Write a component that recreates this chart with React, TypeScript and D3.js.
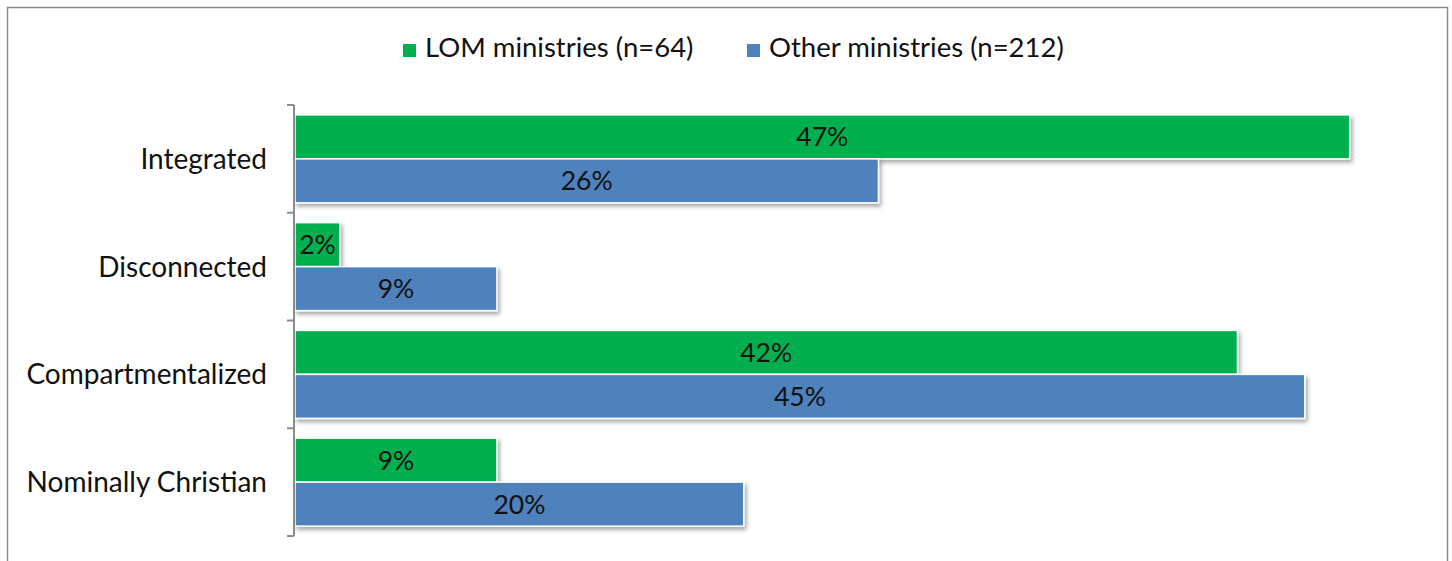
import React from "react";
import * as d3 from "d3";

const categories = ["Integrated", "Disconnected", "Compartmentalized", "Nominally Christian"];
const seriesNames = ["LOM ministries (n=64)", "Other ministries (n=212)"];
const lomValues = [47, 2, 42, 9];
const otherValues = [26, 9, 45, 20];
const seriesColors = ["#00B050", "#4F81BD"];

const W = 1452;
const H = 561;
const FONT = "Lato, 'Open Sans', sans-serif";

export default function App() {
  const x = d3.scaleLinear().domain([0, 50]).range([295, 1417]);
  const y0 = d3.scaleBand<string>().domain(categories).range([105, 536]).paddingInner(0).paddingOuter(0);
  const y1 = d3
    .scaleBand<string>()
    .domain(seriesNames)
    .range([0, y0.bandwidth()])
    .paddingInner(0)
    .paddingOuter(0.2245);
  const seriesValues = [lomValues, otherValues];
  const boundaries = categories.map((c) => y0(c) as number).concat([y0.range()[1]]);

  const legendItems = [
    { name: seriesNames[0], color: seriesColors[0], sx: 403, tx: 425 },
    { name: seriesNames[1], color: seriesColors[1], sx: 747, tx: 769 },
  ];

  return (
    <svg
      width={W}
      height={H}
      style={{ position: "absolute", left: 0, top: 0, background: "#fff" }}
      fontFamily={FONT}
      fontWeight={400}
    >
      <defs>
        <filter id="shadow" x="-5%" y="-20%" width="115%" height="160%">
          <feDropShadow dx="2" dy="3" stdDeviation="2" floodColor="#000" floodOpacity="0.35" />
        </filter>
      </defs>
      <rect x={7.5} y={7.5} width={1440} height={600} fill="#fff" stroke="#8c8c8c" strokeWidth={1.5} />

      {legendItems.map((l) => (
        <g key={l.name}>
          <rect x={l.sx} y={44} width={13} height={13} fill={l.color} />
          <text x={l.tx} y={57} fontSize={27.5} fill="#111">
            {l.name}
          </text>
        </g>
      ))}

      {categories.map((c, i) => (
        <g key={c}>
          {seriesNames.map((s, j) => {
            const v = seriesValues[j][i];
            const by = (y0(c) as number) + (y1(s) as number);
            const bh = y1.bandwidth();
            return (
              <g key={s}>
                <rect
                  x={x(0)}
                  y={by}
                  width={x(v) - x(0)}
                  height={bh}
                  fill={seriesColors[j]}
                  stroke="#fff"
                  strokeWidth={1.5}
                  filter="url(#shadow)"
                />
                <text
                  x={(x(0) + x(v)) / 2}
                  y={by + bh / 2}
                  dy="0.36em"
                  textAnchor="middle"
                  fontSize={26.5}
                  fill="#111"
                >
                  {v}%
                </text>
              </g>
            );
          })}
          <text
            x={267}
            y={(y0(c) as number) + y0.bandwidth() / 2}
            dy="0.36em"
            textAnchor="end"
            fontSize={28}
            fill="#111"
          >
            {c}
          </text>
        </g>
      ))}

      <g stroke="#8c8c8c" strokeWidth={2} fill="none">
        <line x1={294} x2={294} y1={y0.range()[0]} y2={y0.range()[1]} />
        {boundaries.map((b, i) => (
          <line key={i} x1={287} x2={294} y1={b} y2={b} />
        ))}
      </g>
    </svg>
  );
}
